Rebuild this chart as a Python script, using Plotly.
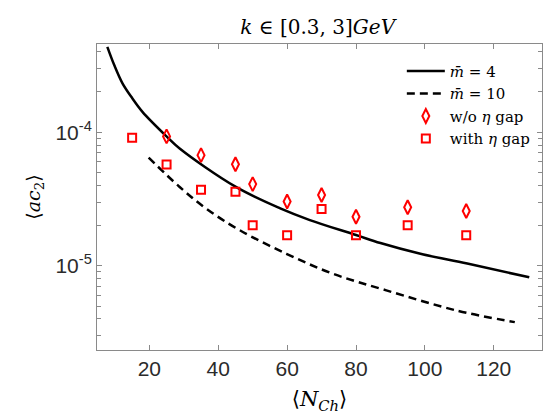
import plotly.graph_objects as go

# Model curves
m4_x = [7.8, 9.8, 12.2, 15, 18, 25, 28.8, 45, 58, 66.6, 80, 87.1, 98.7, 112.3, 130.3]
m4_y = [4.35e-4, 3.18e-4, 2.32e-4, 1.8e-4, 1.42e-4, 9.3e-5, 7.55e-5, 3.91e-5, 2.69e-5, 2.2e-5,
        1.7e-5, 1.48e-5, 1.23e-5, 1.04e-5, 8.2e-6]
m10_x = [19.8, 28.8, 36.5, 46.2, 59.8, 73.4, 88.8, 109.2, 126.1]
m10_y = [6.45e-5, 3.89e-5, 2.68e-5, 1.85e-5, 1.23e-5, 8.7e-6, 6.55e-6, 4.63e-6, 3.79e-6]

# Data points
nogap_x = [25, 35, 45, 50, 60, 70, 80, 95, 112]
nogap_y = [9.3e-5, 6.73e-5, 5.75e-5, 4.09e-5, 3.03e-5, 3.39e-5, 2.33e-5, 2.74e-5, 2.57e-5]
gap_x = [15, 25, 35, 45, 50, 60, 70, 80, 95, 112]
gap_y = [9.1e-5, 5.73e-5, 3.71e-5, 3.59e-5, 2.01e-5, 1.69e-5, 2.66e-5, 1.69e-5, 2.01e-5, 1.69e-5]

xticks = [20, 40, 60, 80, 100, 120]
yticks = [1e-5, 1e-4]
yticktext = ["10<sup>-5</sup>", "10<sup>-4</sup>"]
yminor = [3e-6, 4e-6, 5e-6, 6e-6, 7e-6, 8e-6, 9e-6,
          2e-5, 3e-5, 4e-5, 5e-5, 6e-5, 7e-5, 8e-5, 9e-5,
          2e-4, 3e-4, 4e-4]

serif = "DejaVu Serif"
sans = "Liberation Sans"
axcol = "#8a8a8a"

fig = go.Figure()
fig.add_trace(go.Scatter(x=m4_x, y=m4_y, mode="lines", name="<i>m̄</i> = 4",
                         line=dict(color="black", width=2.5, shape="spline", smoothing=1.0)))
fig.add_trace(go.Scatter(x=m10_x, y=m10_y, mode="lines", name="<i>m̄</i> = 10",
                         line=dict(color="black", width=2.5, dash="8px,5px", shape="spline")))
fig.add_trace(go.Scatter(x=nogap_x, y=nogap_y, mode="markers", name="w/o <i>η</i> gap",
                         marker=dict(symbol="diamond-tall-open", size=10, color="#ff0000",
                                     line=dict(width=2, color="#ff0000"))))
fig.add_trace(go.Scatter(x=gap_x, y=gap_y, mode="markers", name="with <i>η</i> gap",
                         marker=dict(symbol="square-open", size=8, color="#ff0000",
                                     line=dict(width=2, color="#ff0000"))))

fig.update_layout(
    width=544, height=416,
    margin=dict(l=97, r=2, t=44, b=66),
    paper_bgcolor="white", plot_bgcolor="white",
    title=dict(text="<i>k</i> ∈ [0.3, 3]<i>GeV</i>", x=0.584, xanchor="center",
               y=0.935, yanchor="middle",
               font=dict(family=serif, size=20, color="black")),
    legend=dict(x=0.685, y=0.965, xanchor="left", yanchor="top",
                bgcolor="rgba(0,0,0,0)", font=dict(family=serif, size=15, color="black"),
                tracegroupgap=0, itemwidth=38),
    showlegend=True,
)
fig.update_xaxes(
    range=[4.8, 134], tickvals=xticks, ticks="inside", ticklen=5, tickcolor=axcol,
    showline=True, linecolor=axcol, linewidth=1, mirror="ticks", showgrid=False, zeroline=False,
    tickfont=dict(family=sans, size=21, color="#2b2b2b"), automargin=False,
    title=dict(text="⟨<i>N</i><sub><i>Ch</i></sub>⟩", font=dict(family=serif, size=21, color="black"),
               standoff=12),
)
fig.update_yaxes(
    type="log", range=[-5.63, -3.34], tickvals=yticks, ticktext=yticktext,
    ticks="inside", ticklen=5, tickcolor=axcol,
    minor=dict(tickmode="array", tickvals=yminor, ticks="inside", ticklen=4, tickwidth=1,
               tickcolor=axcol, showgrid=False),
    showline=True, linecolor=axcol, linewidth=1, mirror="allticks", showgrid=False, zeroline=False,
    tickfont=dict(family=sans, size=21, color="#2b2b2b"), automargin=False,
    title=dict(text="⟨<i>ac</i><sub>2</sub>⟩", font=dict(family=serif, size=19, color="black"),
               standoff=9),
)

fig.write_html(
    "out.html",
    config={"displayModeBar": False},
    post_script="document.body.style.margin='0';document.body.style.overflow='hidden';",
)
